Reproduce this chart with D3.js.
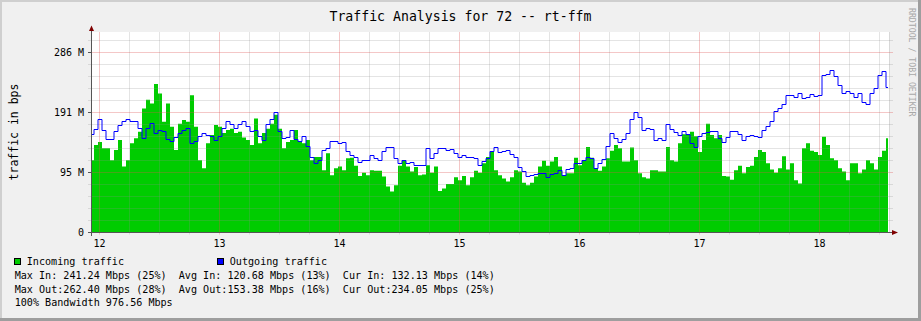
<!DOCTYPE html>
<html>
<head>
    <title>Traffic Analysis for 72 -- rt-ffm</title>
    <script src="https://cdn.jsdelivr.net/npm/d3@7/dist/d3.min.js"></script>
    <style>
        body { margin: 0; background: #f0f0f0; }
        #drawingPlace text { font-family: "DejaVu Sans Mono", monospace; white-space: pre; }
    </style>
    <script>
        // traffic in M (1024*1024 bit/s), one value every 48 minutes
        var incoming = [
            115,139,144,134,134,115,131,147,105,115,142,150,160,197,211,205,236,221,176,205,
            168,131,173,179,176,218,168,115,102,142,155,171,168,158,163,165,158,160,151,147,
            139,181,142,158,165,173,187,165,134,144,147,163,144,142,147,115,120,120,99,126,
            91,102,105,99,118,119,106,90,95,91,99,98,98,89,73,65,75,106,115,105,
            97,104,91,92,107,95,105,66,70,77,77,88,83,90,75,88,98,95,110,120,
            128,99,91,86,81,88,99,97,79,75,79,89,105,114,106,113,120,105,91,94,
            94,119,107,115,136,119,102,98,105,118,130,139,134,113,113,135,115,94,88,86,
            99,99,97,97,136,115,113,142,156,155,160,153,128,147,173,155,150,155,90,89,
            84,99,106,94,104,106,120,131,128,110,100,95,102,121,100,110,83,78,134,142,
            130,128,123,152,139,118,115,102,97,83,110,110,94,100,115,110,100,120,130,150
        ];
        var outgoing = [
            155,164,180,162,148,148,160,170,176,180,177,176,165,150,165,173,158,162,160,148,
            144,151,157,162,165,142,144,152,157,154,152,147,152,165,176,172,165,171,177,168,
            160,162,152,147,171,179,190,160,150,151,162,148,144,153,137,120,109,115,130,134,
            145,145,142,143,128,122,119,111,114,115,122,118,115,129,135,135,118,109,114,109,
            111,106,107,106,134,118,126,134,133,130,132,125,119,122,120,119,117,106,113,117,
            128,135,127,128,130,124,119,104,97,89,91,92,93,93,88,92,94,99,91,100,
            102,110,109,114,119,118,102,109,116,136,158,149,143,148,158,179,190,183,162,165,
            163,147,150,147,171,163,159,154,161,155,141,135,152,158,159,160,160,150,143,151,
            160,160,155,147,152,154,152,151,162,169,176,192,197,204,218,218,215,221,213,215,
            220,216,218,250,251,257,248,233,221,224,221,214,221,206,204,221,229,249,256,230
        ];
        var startDay = 11.9333;
        var stepDay = 1 / 30;

        var dayTicks = [12, 13, 14, 15, 16, 17, 18];
        var yTickValues = [0, 95.37, 190.73, 286.10];
        var yTickLabels = ["0", "95 M", "191 M", "286 M"];

        var legendNames = ["Incoming traffic", "Outgoing traffic"];
        var legendColors = ["#00cc00", "#0000ff"];
        var legendLines = [
            "Max In: 241.24 Mbps (25%)  Avg In: 120.68 Mbps (13%)  Cur In: 132.13 Mbps (14%)",
            "Max Out:262.40 Mbps (28%)  Avg Out:153.38 Mbps (16%)  Cur Out:234.05 Mbps (25%)",
            "100% Bandwidth 976.56 Mbps"
        ];

        window.addEventListener("load", drawDiagram)
        function drawDiagram() {

            var W = 921, H = 321;
            var left = 91.5, right = 889.5, top = 32, bottom = 232.5;
            var minorColor = "rgba(143,143,143,0.24)";
            var majorColor = "rgba(222,80,80,0.32)";

            var svg = d3.select("#drawingPlace")
                .attr("width", W)
                .attr("height", H);

            //background + shaded frame
            svg.append("rect").attr("width", W).attr("height", H).attr("fill", "#f0f0f0");
            svg.append("path").attr("d", "M1,320 V1 H920").attr("fill", "none")
                .attr("stroke", "#cfcfcf").attr("stroke-width", 2);
            svg.append("path").attr("d", "M0,319.5 H919.5 V0").attr("fill", "none")
                .attr("stroke", "#9e9e9e").attr("stroke-width", 3);

            //scales
            var x = d3.scaleLinear()
                .domain([startDay, startDay + (right - left) / 120])
                .range([left, right]);
            var y = d3.scaleLinear()
                .domain([0, (bottom - top) / ((bottom - 52.5) / 286.10)])
                .range([bottom, top]);
            var px = v => Math.floor(v) + 0.5;

            //canvas
            svg.append("rect")
                .attr("x", left).attr("y", top)
                .attr("width", 889 - left).attr("height", bottom - top)
                .attr("fill", "white");

            var inData = incoming.map((v, i) => ({t: startDay + i * stepDay, v: v}));
            var outData = outgoing.map((v, i) => ({t: startDay + i * stepDay, v: v}));

            //incoming area
            var area = d3.area()
                .curve(d3.curveStep)
                .x(d => x(d.t) + 0.5)
                .y0(bottom)
                .y1(d => y(d.v));
            svg.append("path")
                .datum(inData)
                .attr("d", area)
                .attr("fill", "#00cc00");

            //grid on top of the data
            var grid = svg.append("g");
            var minorY = d3.range(1, 17).map(k => k * 95.367 / 5).filter(v => v % 95.367 > 1 && v < y.domain()[1]);
            minorY = minorY.filter(v => Math.abs(v / 95.367 - Math.round(v / 95.367)) > 0.01);
            grid.selectAll("line.hmin")
                .data(minorY)
                .enter()
                .append("line")
                .attr("x1", 88).attr("x2", 893)
                .attr("y1", d => px(y(d)))
                .attr("y2", d => px(y(d)))
                .attr("stroke", minorColor);
            var minorX = d3.range(12, 18.6, 0.25).filter(d => d % 1 != 0);
            grid.selectAll("line.vmin")
                .data(minorX)
                .enter()
                .append("line")
                .attr("x1", d => px(x(d)))
                .attr("x2", d => px(x(d)))
                .attr("y1", top).attr("y2", bottom + 2)
                .attr("stroke", minorColor);
            grid.selectAll("line.hmaj")
                .data(yTickValues.slice(1))
                .enter()
                .append("line")
                .attr("x1", 88).attr("x2", 893)
                .attr("y1", d => px(y(d)))
                .attr("y2", d => px(y(d)))
                .attr("stroke", majorColor);
            grid.selectAll("line.vmaj")
                .data(dayTicks)
                .enter()
                .append("line")
                .attr("x1", d => px(x(d)))
                .attr("x2", d => px(x(d)))
                .attr("y1", top).attr("y2", bottom + 2)
                .attr("stroke", majorColor);
            //right edge of the canvas
            grid.append("line")
                .attr("x1", 889.5).attr("x2", 889.5)
                .attr("y1", top).attr("y2", bottom)
                .attr("stroke", minorColor);

            //outgoing line
            var line = d3.line()
                .curve(d3.curveStep)
                .x(d => x(d.t) + 0.5)
                .y(d => px(y(d.v)));
            svg.append("path")
                .datum(outData)
                .attr("d", line)
                .attr("fill", "none")
                .attr("stroke", "#0000ff")
                .attr("stroke-width", 1);

            //axes
            svg.append("line")
                .attr("x1", 88).attr("x2", 893)
                .attr("y1", bottom).attr("y2", bottom)
                .attr("stroke", "#555");
            svg.append("line")
                .attr("x1", left).attr("x2", left)
                .attr("y1", 236).attr("y2", 30)
                .attr("stroke", "#555");
            svg.append("path")
                .attr("d", "M892,230 L898,232.5 L892,235 Z")
                .attr("fill", "#7f0000");
            svg.append("path")
                .attr("d", "M89,31 L91.5,25.5 L94,31 Z")
                .attr("fill", "#7f0000");

            //y ticks
            svg.selectAll("line.ytick")
                .data(yTickValues)
                .enter()
                .append("line")
                .attr("x1", 88).attr("x2", left)
                .attr("y1", d => px(y(d)))
                .attr("y2", d => px(y(d)))
                .attr("stroke", "#555");
            svg.selectAll("text.ylab")
                .data(yTickValues)
                .enter()
                .append("text")
                .attr("class", "ylab")
                .attr("x", 84)
                .attr("y", d => y(d) + 3.5)
                .attr("text-anchor", "end")
                .attr("font-size", "10px")
                .attr("fill", "black")
                .text((d, i) => yTickLabels[i]);

            //x labels
            svg.selectAll("text.xlab")
                .data(dayTicks)
                .enter()
                .append("text")
                .attr("class", "xlab")
                .attr("x", d => x(d))
                .attr("y", 247)
                .attr("text-anchor", "middle")
                .attr("font-size", "10px")
                .attr("fill", "black")
                .text(d => d);

            //title
            svg.append("text")
                .attr("x", 460.5)
                .attr("y", 20.7)
                .attr("text-anchor", "middle")
                .attr("font-size", "13.2px")
                .attr("fill", "black")
                .text("Traffic Analysis for 72 -- rt-ffm");

            //y title
            svg.append("text")
                .attr("transform", "translate(18,132) rotate(-90)")
                .attr("text-anchor", "middle")
                .attr("font-size", "11.5px")
                .attr("fill", "black")
                .text("traffic in bps");

            //watermark
            svg.append("text")
                .attr("transform", "translate(908.5,8) rotate(90)")
                .attr("font-size", "8.2px")
                .attr("fill", "#a8a8a8")
                .text("RRDTOOL / TOBI OETIKER");

            //legend
            var boxX = [14.5, 217.5];
            legendNames.forEach(function (name, i) {
                svg.append("rect")
                    .attr("x", boxX[i]).attr("y", 258.5)
                    .attr("width", 6).attr("height", 6)
                    .attr("fill", legendColors[i])
                    .attr("stroke", "black");
                svg.append("text")
                    .attr("x", boxX[i] + 12.3)
                    .attr("y", 265)
                    .attr("font-size", "10.1px")
                    .attr("fill", "black")
                    .text(name);
            });
            svg.selectAll("text.leg")
                .data(legendLines)
                .enter()
                .append("text")
                .attr("class", "leg")
                .attr("x", 14.7)
                .attr("y", (d, i) => 278.7 + i * 13.8)
                .attr("font-size", "10.1px")
                .attr("fill", "black")
                .text(d => d);
        }
    </script>
</head>
<body>
    <svg id="drawingPlace" width="921" height="321"></svg>
</body>
</html>
